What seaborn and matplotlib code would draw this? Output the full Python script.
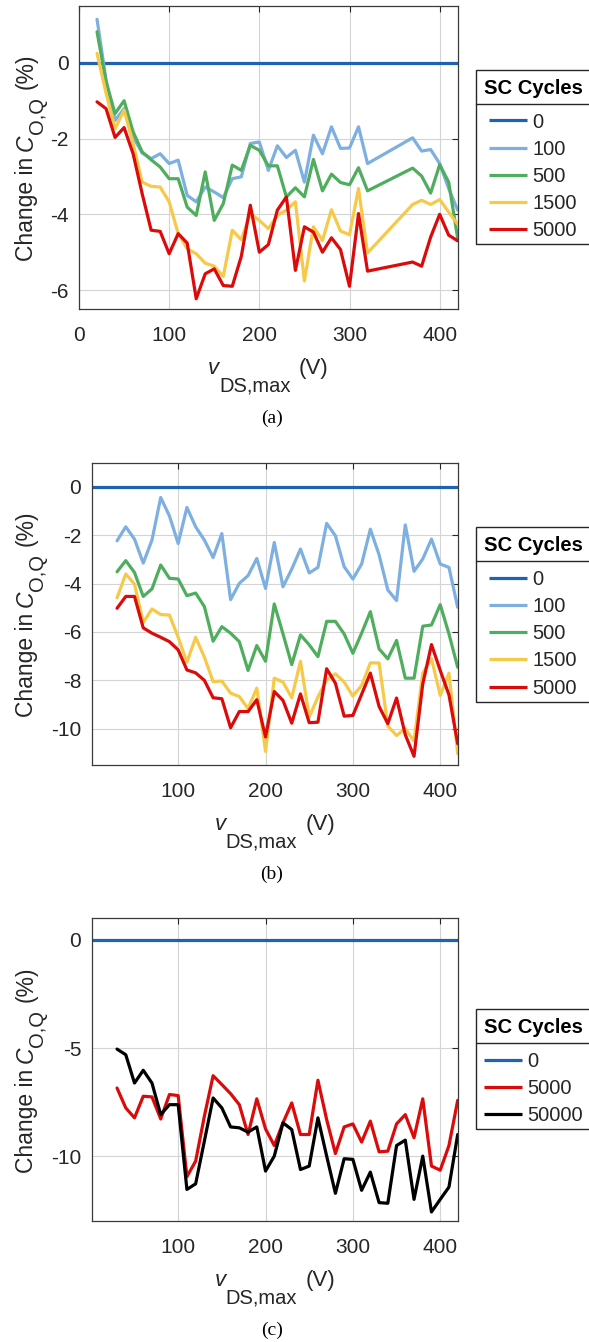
import matplotlib
matplotlib.use("Agg")
import matplotlib.pyplot as plt
from matplotlib.lines import Line2D
from matplotlib.patches import Rectangle
import pandas as pd
import seaborn as sns

# ---------------- data ----------------
cycles_ab = ["0", "100", "500", "1500", "5000"]
cycles_c = ["0", "5000", "50000"]

v_zero = [0, 420]
pct_zero = [0.0, 0.0]

# panel (a)
v_a = [20, 30, 40, 50, 60, 70, 80, 90, 100, 110, 120, 130, 140, 150, 160, 170,
       180, 190, 200, 210, 220, 230, 240, 250, 260, 270, 280, 290, 300, 310, 320,
       370, 380, 390, 400, 410, 420]
a_100 = [1.15, -0.45, -1.52, -1.21, -1.96, -2.38, -2.53, -2.40, -2.66, -2.57, -3.50,
         -3.67, -3.28, -3.41, -3.56, -3.06, -3.01, -2.13, -2.09, -2.84, -2.19, -2.50,
         -2.31, -3.15, -1.91, -2.40, -1.69, -2.26, -2.25, -1.69, -2.66,
         -1.98, -2.33, -2.29, -2.66, -3.32, -3.89]
a_500 = [0.82, -0.50, -1.34, -1.00, -1.82, -2.35, -2.56, -2.75, -3.06, -3.06, -3.81,
         -4.03, -2.88, -4.16, -3.72, -2.70, -2.84, -2.18, -2.31, -2.72, -2.72, -3.54,
         -3.30, -3.54, -2.55, -3.38, -2.94, -3.16, -3.22, -2.77, -3.38,
         -2.78, -2.99, -3.44, -2.69, -3.15, -4.64]
a_1500 = [0.25, -0.80, -1.74, -1.25, -2.13, -3.15, -3.26, -3.28, -3.67, -4.51, -4.91,
          -5.04, -5.29, -5.37, -5.64, -4.42, -4.67, -3.98, -4.16, -4.38, -4.03, -3.89,
          -3.67, -5.76, -4.33, -4.69, -3.88, -4.44, -4.54, -3.32, -5.02,
          -3.74, -3.63, -3.74, -3.61, -3.94, -4.26]
a_5000 = [-1.03, -1.21, -1.97, -1.71, -2.40, -3.45, -4.42, -4.45, -5.04, -4.51, -4.76,
          -6.23, -5.57, -5.44, -5.88, -5.90, -5.11, -3.76, -5.00, -4.80, -3.89, -3.54,
          -5.48, -4.33, -4.47, -5.00, -4.62, -4.93, -5.90, -3.98, -5.50,
          -5.26, -5.37, -4.60, -4.00, -4.55, -4.70]

# panels (b) and (c)
v_bc = [30, 40, 50, 60, 70, 80, 90, 100, 110, 120, 130, 140, 150, 160, 170, 180,
        190, 200, 210, 220, 230, 240, 250, 260, 270, 280, 290, 300, 310, 320, 330,
        340, 350, 360, 370, 380, 390, 400, 410, 420]
b_100 = [-2.23, -1.65, -2.16, -3.15, -2.20, -0.44, -1.20, -2.34, -0.85, -1.65,
         -2.20, -2.92, -1.93, -4.66, -3.99, -3.67, -2.96, -4.20, -2.30, -4.13,
         -3.40, -2.57, -3.56, -3.33, -1.51, -2.02, -3.30, -3.81, -3.19, -1.75,
         -2.81, -4.26, -4.70, -1.57, -3.49, -2.98, -2.16, -3.19, -3.33, -4.98]
b_500 = [-3.51, -3.05, -3.54, -4.53, -4.22, -3.23, -3.78, -3.81, -4.50, -4.39,
         -4.95, -6.38, -5.78, -6.05, -6.40, -7.59, -6.56, -7.21, -4.84, -6.08,
         -7.35, -6.12, -6.53, -7.02, -5.56, -5.56, -6.08, -6.88, -6.05, -5.16,
         -6.70, -7.11, -6.35, -7.91, -7.91, -5.76, -5.71, -4.87, -6.08, -7.46]
b_1500 = [-4.59, -3.60, -4.02, -5.60, -5.05, -5.28, -5.30, -6.22, -7.25, -6.22,
          -7.04, -8.05, -8.03, -8.53, -8.67, -9.17, -8.32, -10.94, -7.91, -8.07,
          -8.72, -7.21, -9.52, -8.69, -7.98, -7.73, -8.07, -8.65, -8.21, -7.28,
          -7.28, -9.89, -10.28, -10.00, -10.51, -7.70, -7.11, -8.62, -7.70, -11.03]
b_5000 = [-5.02, -4.53, -4.53, -5.83, -6.05, -6.22, -6.40, -6.74, -7.57, -7.69,
          -8.00, -8.72, -8.76, -9.96, -9.29, -9.29, -8.80, -10.34, -8.46, -8.83,
          -9.77, -8.56, -9.75, -9.73, -7.52, -8.12, -9.48, -9.45, -8.58, -7.70,
          -9.08, -9.79, -8.73, -10.25, -11.14, -8.15, -6.52, -7.59, -8.60, -10.62]
c_5000 = [-6.85, -7.77, -8.23, -7.23, -7.26, -8.28, -7.15, -7.20, -10.95, -10.23,
          -8.15, -6.28, -6.69, -7.11, -7.62, -9.00, -7.35, -8.74, -9.51, -8.46,
          -7.54, -9.00, -9.00, -6.49, -8.31, -9.88, -8.65, -8.51, -9.35, -8.38,
          -9.80, -9.77, -8.51, -8.08, -9.15, -7.35, -10.46, -10.65, -9.51, -7.42]
c_50000 = [-5.05, -5.31, -6.62, -6.03, -6.62, -8.08, -7.62, -7.62, -11.54, -11.28,
           -9.30, -7.31, -7.77, -8.65, -8.69, -8.89, -8.65, -10.69, -10.00, -8.46,
           -8.77, -10.62, -10.46, -8.23, -10.00, -11.72, -10.12, -10.15, -11.58, -10.74,
           -12.15, -12.18, -9.51, -9.26, -12.00, -10.00, -12.58, -12.00, -11.43, -9.00]

x_ticks_a = [0, 100, 200, 300, 400]
x_ticks_bc = [100, 200, 300, 400]
y_ticks_a = [0, -2, -4, -6]
y_ticks_b = [0, -2, -4, -6, -8, -10]
y_ticks_c = [0, -5, -10]
captions = ["(a)", "(b)", "(c)"]
legend_title = "SC Cycles"

# ---------------- style ----------------
W, H, DPI = 589, 1342, 100
LW = 2.3
TXT = "#262626"
PAL = {"0": "#1F63B0", "100": "#7DB0E0", "500": "#4FAE5E",
       "1500": "#F7C948", "5000": "#DC0A0A", "50000": "#000000"}

sns.set_theme(style="white")
plt.rcParams["font.family"] = ["Liberation Sans", "DejaVu Sans"]
plt.rcParams["axes.unicode_minus"] = False

fig = plt.figure(figsize=(W / DPI, H / DPI), dpi=DPI)
fig.patch.set_facecolor("white")


def long_table(series):
    frames = [pd.DataFrame({"v": xs, "pct": ys, "cycles": name})
              for name, (xs, ys) in series.items()]
    return pd.concat(frames, ignore_index=True)


def add_axes(left, top, right, bottom):
    return fig.add_axes([left / W, 1 - bottom / H, (right - left) / W, (bottom - top) / H])


def style_ax(ax, xlim, ylim, xticks, yticks):
    ax.set_xlim(xlim)
    ax.set_ylim(ylim)
    ax.set_xticks(xticks)
    ax.set_yticks(yticks)
    ax.set_xlabel("")
    ax.set_ylabel("")
    ax.grid(True, color="#d4d4d4", lw=0.8)
    ax.set_axisbelow(True)
    for s in ax.spines.values():
        s.set_visible(True)
        s.set_color("#3a3a3a")
        s.set_linewidth(0.9)
    ax.tick_params(direction="in", length=4, width=0.8, top=True, right=True,
                   labelsize=15, colors=TXT)
    ax.tick_params(axis="x", pad=12)
    ax.tick_params(axis="y", pad=7.5)


panels = [
    dict(box=(79, 6, 457.7, 309), order=cycles_ab,
         series={"0": (v_zero, pct_zero), "100": (v_a, a_100), "500": (v_a, a_500),
                 "1500": (v_a, a_1500), "5000": (v_a, a_5000)},
         xlim=(0, 420), ylim=(-6.5, 1.5), xt=x_ticks_a, yt=y_ticks_a,
         leg_top=70, hx=489),
    dict(box=(91.7, 462.7, 457.7, 765), order=cycles_ab,
         series={"0": (v_zero, pct_zero), "100": (v_bc, b_100), "500": (v_bc, b_500),
                 "1500": (v_bc, b_1500), "5000": (v_bc, b_5000)},
         xlim=(1, 420), ylim=(-11.5, 1), xt=x_ticks_bc, yt=y_ticks_b,
         leg_top=527.3, hx=489),
    dict(box=(91.7, 918.3, 457.7, 1221), order=cycles_c,
         series={"0": (v_zero, pct_zero), "5000": (v_bc, c_5000),
                 "50000": (v_bc, c_50000)},
         xlim=(1, 420), ylim=(-13, 1), xt=x_ticks_bc, yt=y_ticks_c,
         leg_top=1009.3, hx=484),
]

axes = []
for p in panels:
    ax = add_axes(*p["box"])
    df = long_table(p["series"])
    sns.lineplot(data=df, x="v", y="pct", hue="cycles", hue_order=p["order"],
                 palette=PAL, estimator=None, sort=False, lw=LW, legend=False, ax=ax)
    style_ax(ax, p["xlim"], p["ylim"], p["xt"], p["yt"])
    axes.append(ax)

renderer = fig.canvas.get_renderer()


def place_label(pieces, along_center, base, vertical):
    items = []
    for s, size, style, drop, gap in pieces:
        t = fig.text(0, 0, s, fontsize=size, style=style, color=TXT, ha="left",
                     va="baseline", rotation=90 if vertical else 0,
                     rotation_mode="anchor")
        bb = t.get_window_extent(renderer)
        items.append((t, drop, gap, bb.height if vertical else bb.width))
    total = sum(i[2] + i[3] for i in items)
    pos = ((H - along_center) if vertical else along_center) - total / 2
    for t, drop, gap, L in items:
        pos += gap
        if vertical:
            t.set_position(((base + drop) / W, pos / H))
        else:
            t.set_position((pos / W, 1 - (base + drop) / H))
        pos += L


FS_LEG = 14.5
FS_PX = FS_LEG * DPI / 72
ROW_PITCH = 27.2


def build_legend(order, hx, top, spacing):
    handles = [Line2D([], [], color=PAL[c], lw=LW, solid_capstyle="butt") for c in order]
    leg = fig.legend(handles, order, loc="upper left",
                     bbox_to_anchor=(hx / W, 1 - (top + 38) / H),
                     bbox_transform=fig.transFigure, frameon=False, borderpad=0,
                     borderaxespad=0, handlelength=1.87, handletextpad=0.3,
                     labelspacing=spacing, fontsize=FS_LEG)
    for t in leg.get_texts():
        t.set_color(TXT)
    return leg


def line_pos(line):
    bb = line.get_window_extent(renderer)
    return bb.x0, H - (bb.y0 + bb.y1) / 2


# calibrate legend row pitch
probe = build_legend(cycles_ab, 489, 70, 0.3)
fig.canvas.draw()
ls = probe.get_lines()
pitch = (line_pos(ls[-1])[1] - line_pos(ls[0])[1]) / (len(ls) - 1)
probe.remove()
spacing = 0.3 + (ROW_PITCH - pitch) / FS_PX

for i, (p, ax) in enumerate(zip(panels, axes)):
    left, top, right, bottom = p["box"]
    cx = (left + right) / 2
    cy = (top + bottom) / 2
    # x label: v_{DS,max} (V)
    place_label([("v", 16, "italic", 0, 0), ("DS,max", 14.5, "normal", 17, 0),
                 ("(V)", 16, "normal", 0, 8)], cx, bottom + 65, vertical=False)
    # y label: Change in C_{O,Q} (%)
    place_label([("Change in", 16.5, "normal", 0, 0), ("C", 16.5, "italic", 0, 6),
                 ("O,Q", 14.5, "normal", 10, 0), ("(%)", 16.5, "normal", 0, 8)],
                cy, 33, vertical=True)
    # caption
    fig.text(272 / W, 1 - (bottom + 109) / H, captions[i],
             family=["Liberation Serif", "DejaVu Serif"], fontsize=14, color="black",
             ha="center", va="center")
    # legend frame with header
    lt = p["leg_top"]
    n = len(p["order"])
    lb = lt + 50.5 + (n - 1) * ROW_PITCH + 15
    fig.patches.append(Rectangle((476 / W, 1 - lb / H), (640 - 476) / W, (lb - lt) / H,
                                 transform=fig.transFigure, fill=False, ec=TXT, lw=1.0))
    fig.lines.append(Line2D([476 / W, 640 / W], [1 - (lt + 33.5) / H] * 2,
                            transform=fig.transFigure, color=TXT, lw=1.0))
    fig.text(484 / W, 1 - (lt + 24) / H, legend_title, fontsize=14.6, weight="bold",
             color="black", ha="left", va="baseline")
    p["leg"] = build_legend(p["order"], p["hx"], lt, spacing)

fig.canvas.draw()
for p in panels:
    leg = p["leg"]
    x0, y0 = line_pos(leg.get_lines()[0])
    want_x, want_y = p["hx"], p["leg_top"] + 50.5
    ax_px = p["hx"] + (want_x - x0)
    ay_px = p["leg_top"] + 38 + (want_y - y0)
    leg.set_bbox_to_anchor((ax_px / W, 1 - ay_px / H), transform=fig.transFigure)

fig.savefig("out.png", dpi=DPI, facecolor="white")
